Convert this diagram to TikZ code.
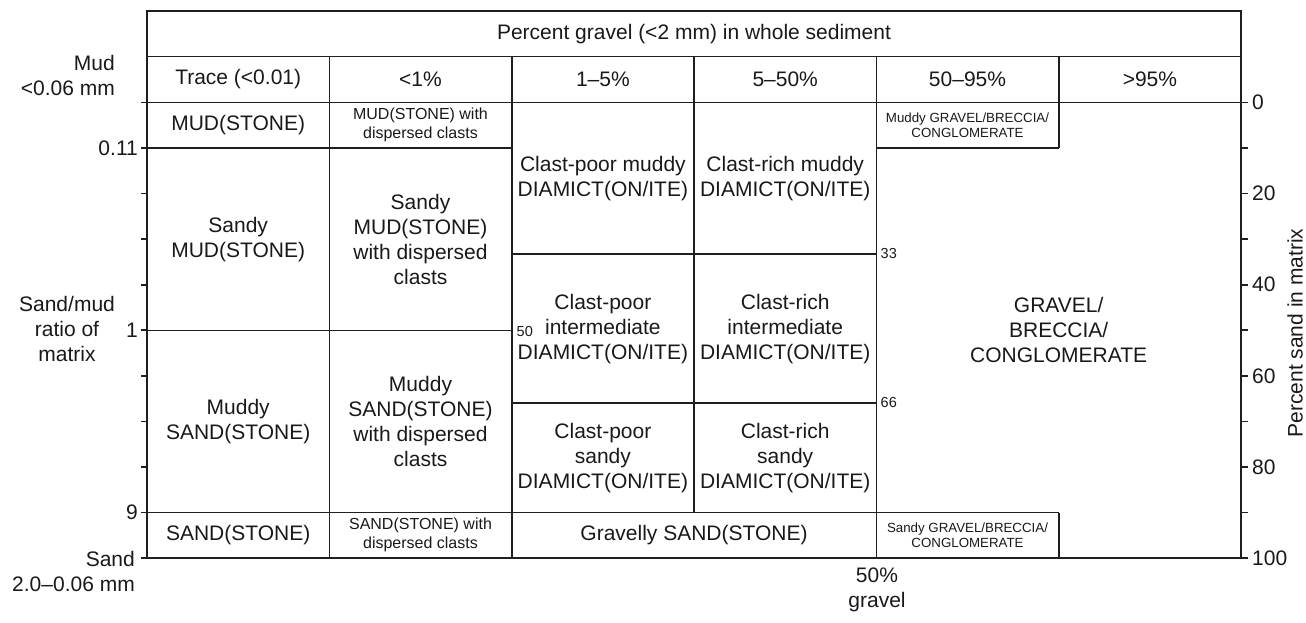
\documentclass[tikz,border=0pt]{standalone}
\usepackage{fontspec}
\setmainfont{Liberation Sans}
\begin{document}
\begin{tikzpicture}[x=1pt,y=-1pt,
  ln/.style={line width=1.6pt, draw=black!88},
  big/.style={font=\fontsize{21}{25}\selectfont, align=center, inner sep=0pt, text=black!90},
  med/.style={font=\fontsize{16}{19}\selectfont, align=center, inner sep=0pt, text=black!90},
  sml/.style={font=\fontsize{13.3}{15.5}\selectfont, align=center, inner sep=0pt, text=black!90},
  num/.style={font=\fontsize{14.5}{16}\selectfont, inner sep=0pt, text=black!90}]
\useasboundingbox (0,0) rectangle (1306,622);
% frame
\draw[ln] (147,558) -- (147,11) -- (1241,11) -- (1241,558);
\draw[ln] (147,56.5) -- (1241,56.5);
% header column dividers
\foreach \x in {329.3,511.7,694,876.3,1058.7} \draw[ln] (\x,56.5) -- (\x,102.5);
% body horizontal lines
\draw[ln] (141,102.5) -- (1248,102.5);
\draw[ln] (141,558) -- (1248,558);
\draw[ln] (141,148) -- (511.7,148);
\draw[ln] (876.3,148) -- (1058.7,148);
\draw[ln] (511.7,254) -- (876.3,254);
\draw[ln] (141,330.3) -- (511.7,330.3);
\draw[ln] (511.7,403) -- (876.3,403);
\draw[ln] (141,512.5) -- (1058.7,512.5);
% body vertical lines
\draw[ln] (329.3,102.5) -- (329.3,558);
\draw[ln] (511.7,102.5) -- (511.7,558);
\draw[ln] (694,102.5) -- (694,512.5);
\draw[ln] (876.3,102.5) -- (876.3,558);
\draw[ln] (1058.7,102.5) -- (1058.7,148);
\draw[ln] (1058.7,512.5) -- (1058.7,558);
% ticks
\foreach \k in {0,...,10} {
  \draw[ln] (141,102.5+45.55*\k) -- (147,102.5+45.55*\k);
  \draw[ln] (1241,102.5+45.55*\k) -- (1248,102.5+45.55*\k);
}
% left axis labels
\node[big, align=right, anchor=east] (mud) at (115,75.5) {Mud\\<0.06 mm};
\node[big, align=right, anchor=east] (sand) at (135,571.5) {Sand\\2.0–0.06 mm};
\node[big] (ratio) at (67,329) {Sand/mud\\ratio of\\matrix};
\node[big, anchor=east] (t011) at (138,148) {0.11};
\node[big, anchor=east] (t1) at (138,330.3) {1};
\node[big, anchor=east] (t9) at (138,512.5) {9};
% right axis labels
\node[big, anchor=west] (p0) at (1252,102.5) {0};
\node[big, anchor=west] (p20) at (1252,193.6) {20};
\node[big, anchor=west] (p40) at (1252,284.7) {40};
\node[big, anchor=west] (p60) at (1252,375.8) {60};
\node[big, anchor=west] (p80) at (1252,466.9) {80};
\node[big, anchor=west] (p100) at (1252,558) {100};
\node[big, rotate=90] (psand) at (1295,333) {Percent sand in matrix};
% bottom label
\node[big] (g50) at (877,589.5) {50\%\\gravel};
% header
\node[big] (hdr) at (694,34) {Percent gravel (<2 mm) in whole sediment};
\node[big] (h1) at (238.2,79.5) {Trace (<0.01)};
\node[big] (h2) at (420.5,79.5) {<1\%};
\node[big] (h3) at (602.9,79.5) {1–5\%};
\node[big] (h4) at (785.2,79.5) {5–50\%};
\node[big] (h5) at (967.5,79.5) {50–95\%};
\node[big] (h6) at (1149.9,79.5) {>95\%};
% column 1
\node[big] (a1) at (238.2,125.3) {MUD(STONE)};
\node[big] (a2) at (238.2,239.2) {Sandy\\MUD(STONE)};
\node[big] (a3) at (238.2,421.4) {Muddy\\SAND(STONE)};
\node[big] (a4) at (238.2,535.3) {SAND(STONE)};
% column 2
\node[med] (b1) at (420.5,125.3) {MUD(STONE) with\\dispersed clasts};
\node[big] (b2) at (420.5,239.2) {Sandy\\MUD(STONE)\\with dispersed\\clasts};
\node[big] (b3) at (420.5,421.4) {Muddy\\SAND(STONE)\\with dispersed\\clasts};
\node[med] (b4) at (420.5,535.3) {SAND(STONE) with\\dispersed clasts};
% columns 3-4
\node[big] (c1) at (602.9,178.3) {Clast-poor muddy\\DIAMICT(ON/ITE)};
\node[big] (d1) at (785.2,178.3) {Clast-rich muddy\\DIAMICT(ON/ITE)};
\node[big] (c2) at (602.9,329.5) {Clast-poor\\intermediate\\DIAMICT(ON/ITE)};
\node[big] (d2) at (785.2,329.5) {Clast-rich\\intermediate\\DIAMICT(ON/ITE)};
\node[big] (c3) at (602.9,458) {Clast-poor\\sandy\\DIAMICT(ON/ITE)};
\node[big] (d3) at (785.2,458) {Clast-rich\\sandy\\DIAMICT(ON/ITE)};
\node[big] (cd4) at (694,535.3) {Gravelly SAND(STONE)};
\node[num, anchor=west] (n50) at (516.5,331) {50};
\node[num, anchor=west] (n33) at (880.5,254) {33};
\node[num, anchor=west] (n66) at (880.5,402) {66};
% columns 5-6
\node[sml] (e1) at (967.5,125.3) {Muddy GRAVEL/BRECCIA/\\CONGLOMERATE};
\node[big] (e2) at (1058.7,330.3) {GRAVEL/\\BRECCIA/\\CONGLOMERATE};
\node[sml] (e3) at (967.5,535.3) {Sandy GRAVEL/BRECCIA/\\CONGLOMERATE};
\end{tikzpicture}
\end{document}
